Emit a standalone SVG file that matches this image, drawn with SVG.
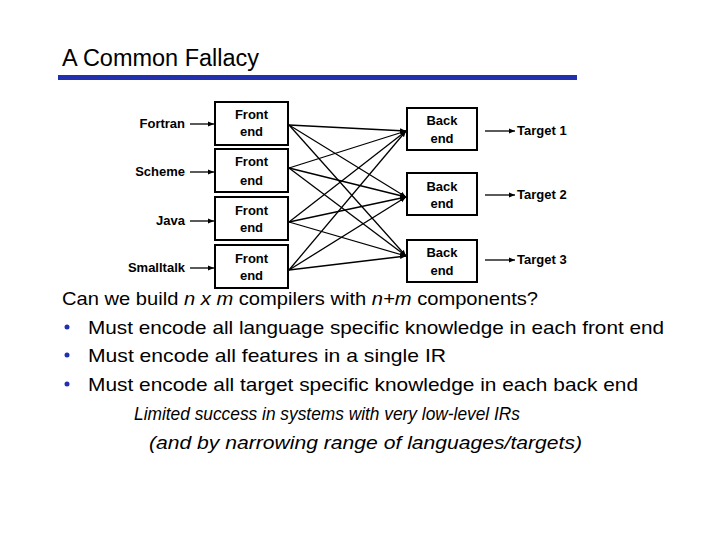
<svg xmlns="http://www.w3.org/2000/svg" width="720" height="540" viewBox="0 0 720 540">
<defs>
<marker id="ah" viewBox="0 0 10 10" refX="10" refY="5" markerWidth="6" markerHeight="6" orient="auto" markerUnits="userSpaceOnUse"><path d="M0,1 L10,5 L0,9 z" fill="#000"/></marker>
<style>
.box{fill:#fff;stroke:#000;stroke-width:2}
.lb{font-family:"Liberation Sans",Arial,sans-serif;font-size:13px;font-weight:bold;fill:#000}
.ln{stroke:#000;stroke-width:1.3;fill:none;marker-end:url(#ah)}
.tx{font-family:"Liberation Sans",Arial,sans-serif;font-size:19px;fill:#000}
</style>
</defs>
<rect width="720" height="540" fill="#fff"/>
<text x="62" y="66" class="tx" style="font-size:23px" textLength="197" lengthAdjust="spacingAndGlyphs">A Common Fallacy</text>
<rect x="58" y="75" width="519" height="5" fill="#2230b0"/>
<g id="connectors">
<line class="ln" x1="190" y1="124" x2="214" y2="124"/>
<line class="ln" x1="190" y1="172" x2="214" y2="172"/>
<line class="ln" x1="190" y1="221" x2="214" y2="221"/>
<line class="ln" x1="190" y1="268" x2="214" y2="268"/>
<g>
<line class="ln" x1="289" y1="125" x2="406" y2="131"/><line class="ln" x1="289" y1="125" x2="406" y2="197"/><line class="ln" x1="289" y1="125" x2="406" y2="256"/>
<line class="ln" x1="289" y1="168" x2="406" y2="131"/><line class="ln" x1="289" y1="168" x2="406" y2="197"/><line class="ln" x1="289" y1="168" x2="406" y2="256"/>
<line class="ln" x1="289" y1="222" x2="406" y2="131"/><line class="ln" x1="289" y1="222" x2="406" y2="197"/><line class="ln" x1="289" y1="222" x2="406" y2="256"/>
<line class="ln" x1="289" y1="270" x2="406" y2="131"/><line class="ln" x1="289" y1="270" x2="406" y2="197"/><line class="ln" x1="289" y1="270" x2="406" y2="256"/>
</g>
<line class="ln" x1="485" y1="131" x2="515" y2="131"/>
<line class="ln" x1="485" y1="195" x2="515" y2="195"/>
<line class="ln" x1="485" y1="260" x2="515" y2="260"/>
</g>
<g id="langs" text-anchor="end">
<text x="185" y="128" class="lb">Fortran</text>
<text x="185" y="176" class="lb">Scheme</text>
<text x="185" y="225" class="lb">Java</text>
<text x="185" y="272" class="lb">Smalltalk</text>
</g>
<g id="fe1"><rect class="box" x="215" y="102" width="73" height="43"/><text class="lb" x="251.5" y="119" text-anchor="middle">Front</text><text class="lb" x="251.5" y="136" text-anchor="middle">end</text></g>
<g id="fe2"><rect class="box" x="215" y="149" width="73" height="43"/><text class="lb" x="251.5" y="166" text-anchor="middle">Front</text><text class="lb" x="251.5" y="185" text-anchor="middle">end</text></g>
<g id="fe3"><rect class="box" x="215" y="197" width="73" height="43"/><text class="lb" x="251.5" y="215" text-anchor="middle">Front</text><text class="lb" x="251.5" y="232" text-anchor="middle">end</text></g>
<g id="fe4"><rect class="box" x="215" y="245" width="73" height="43"/><text class="lb" x="251.5" y="263" text-anchor="middle">Front</text><text class="lb" x="251.5" y="280" text-anchor="middle">end</text></g>
<g id="be1"><rect class="box" x="407" y="108" width="70" height="42"/><text class="lb" x="442" y="125" text-anchor="middle">Back</text><text class="lb" x="442" y="143" text-anchor="middle">end</text></g>
<g id="be2"><rect class="box" x="407" y="173" width="70" height="42"/><text class="lb" x="442" y="191" text-anchor="middle">Back</text><text class="lb" x="442" y="208" text-anchor="middle">end</text></g>
<g id="be3"><rect class="box" x="407" y="240" width="70" height="42"/><text class="lb" x="442" y="257" text-anchor="middle">Back</text><text class="lb" x="442" y="275" text-anchor="middle">end</text></g>
<g id="targets">
<text x="517" y="135" class="lb">Target 1</text>
<text x="517" y="199" class="lb">Target 2</text>
<text x="517" y="264" class="lb">Target 3</text>
</g>
<g id="body">
<text class="tx" x="62" y="305" textLength="476" lengthAdjust="spacingAndGlyphs">Can we build <tspan font-style="italic">n x m</tspan> compilers with <tspan font-style="italic">n+m</tspan> components?</text>
<circle cx="67" cy="327" r="2.5" fill="#2230b0"/>
<circle cx="67" cy="355" r="2.5" fill="#2230b0"/>
<circle cx="67" cy="384" r="2.5" fill="#2230b0"/>
<text class="tx" x="88" y="334" textLength="576" lengthAdjust="spacingAndGlyphs">Must encode all language specific knowledge in each front end</text>
<text class="tx" x="88" y="362" textLength="358" lengthAdjust="spacingAndGlyphs">Must encode all features in a single IR</text>
<text class="tx" x="88" y="391" textLength="550" lengthAdjust="spacingAndGlyphs">Must encode all target specific knowledge in each back end</text>
<text class="tx" x="134" y="420" textLength="386" lengthAdjust="spacingAndGlyphs" font-style="italic">Limited success in systems with very low-level IRs</text>
<text class="tx" x="149" y="449" textLength="433" lengthAdjust="spacingAndGlyphs" font-style="italic">(and by narrowing range of languages/targets)</text>
</g>
</svg>
